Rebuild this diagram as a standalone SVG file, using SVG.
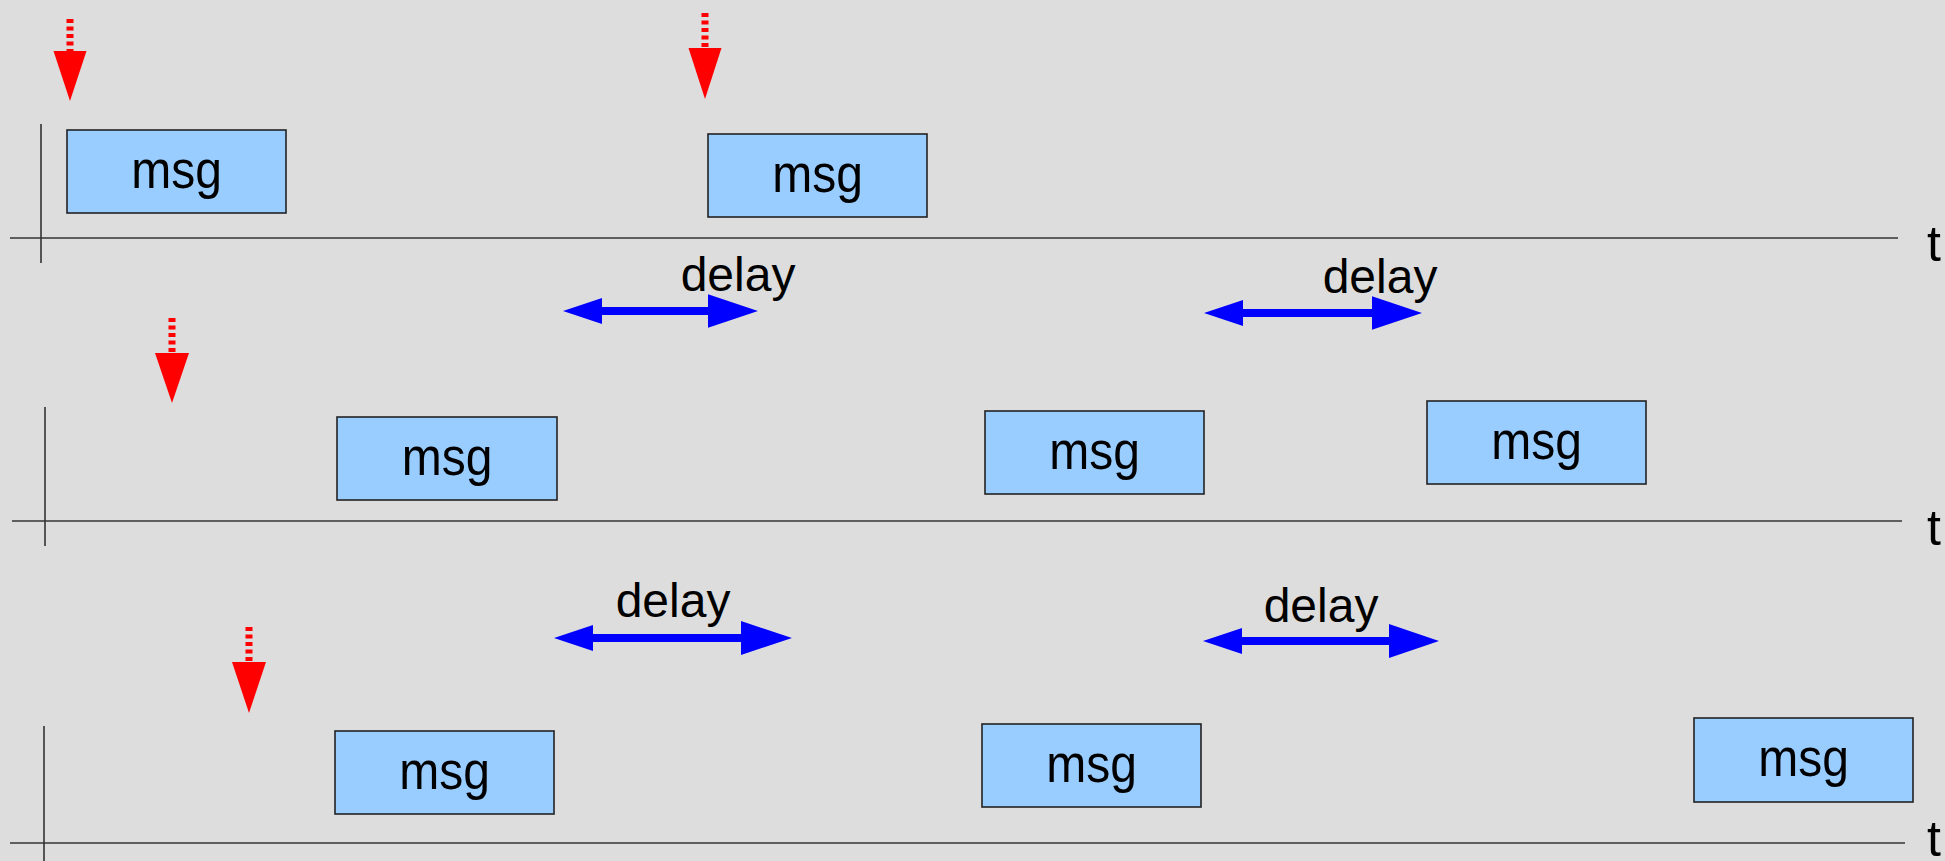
<svg xmlns="http://www.w3.org/2000/svg" width="1945" height="861" viewBox="0 0 1945 861">
<style>
.axis{stroke:#333;stroke-width:1.6;fill:none}
.box{fill:#99ccff;stroke:#222;stroke-width:1.6}
.msg{font-family:"Liberation Sans",Arial,sans-serif;font-size:48px;fill:#000;text-anchor:middle}
.lbl{font-family:"Liberation Sans",Arial,sans-serif;font-size:48px;fill:#000;text-anchor:middle}
.t{font-family:"Liberation Sans",Arial,sans-serif;font-size:50px;fill:#000}
.rshaft{stroke:#ff0000;stroke-width:7;stroke-dasharray:4 3.5;fill:none}
.rhead{fill:#ff0000}
.bshaft{stroke:#0000ff;stroke-width:8;fill:none}
.bhead{fill:#0000ff}
</style>
<rect width="1945" height="861" fill="#dddddd"/>

<g id="axes">
  <line class="axis" x1="10" y1="238" x2="1898" y2="238"/>
  <line class="axis" x1="41" y1="124" x2="41" y2="263"/>
  <text class="t" x="1927" y="261">t</text>
  <line class="axis" x1="12" y1="521" x2="1902" y2="521"/>
  <line class="axis" x1="45" y1="407" x2="45" y2="546"/>
  <text class="t" x="1927" y="545">t</text>
  <line class="axis" x1="10" y1="843" x2="1905" y2="843"/>
  <line class="axis" x1="44" y1="726" x2="44" y2="861"/>
  <text class="t" x="1927" y="856">t</text>
</g>

<g id="msg1"><rect class="box" x="67" y="130" width="219" height="83"/><text class="msg" transform="translate(176.5,188) scale(1,1.13)">msg</text></g>
<g id="msg2"><rect class="box" x="708" y="134" width="219" height="83"/><text class="msg" transform="translate(817.5,192) scale(1,1.13)">msg</text></g>
<g id="msg3"><rect class="box" x="337" y="417" width="220" height="83"/><text class="msg" transform="translate(447,475) scale(1,1.13)">msg</text></g>
<g id="msg4"><rect class="box" x="985" y="411" width="219" height="83"/><text class="msg" transform="translate(1094.5,469) scale(1,1.13)">msg</text></g>
<g id="msg5"><rect class="box" x="1427" y="401" width="219" height="83"/><text class="msg" transform="translate(1536.5,459) scale(1,1.13)">msg</text></g>
<g id="msg6"><rect class="box" x="335" y="731" width="219" height="83"/><text class="msg" transform="translate(444.5,789) scale(1,1.13)">msg</text></g>
<g id="msg7"><rect class="box" x="982" y="724" width="219" height="83"/><text class="msg" transform="translate(1091.5,782) scale(1,1.13)">msg</text></g>
<g id="msg8"><rect class="box" x="1694" y="718" width="219" height="84"/><text class="msg" transform="translate(1803.5,776) scale(1,1.13)">msg</text></g>

<g id="connectors">
  <g id="red1"><line class="rshaft" x1="70" y1="19" x2="70" y2="52"/><polygon class="rhead" points="53.5,51 86.5,51 70,101"/></g>
  <g id="red2"><line class="rshaft" x1="705" y1="13" x2="705" y2="49"/><polygon class="rhead" points="688.5,48 721.5,48 705,99"/></g>
  <g id="red3"><line class="rshaft" x1="172" y1="318" x2="172" y2="354"/><polygon class="rhead" points="155,353 189,353 172,403"/></g>
  <g id="red4"><line class="rshaft" x1="249" y1="627" x2="249" y2="663"/><polygon class="rhead" points="232,662 266,662 249,713"/></g>

  <g id="delay1">
    <line class="bshaft" x1="600" y1="311" x2="710" y2="311"/>
    <polygon class="bhead" points="563,311 602,298 602,324"/>
    <polygon class="bhead" points="758,311 708,294.3 708,327.7"/>
  </g>
  <g id="delay2">
    <line class="bshaft" x1="1241" y1="313" x2="1374" y2="313"/>
    <polygon class="bhead" points="1204,313 1243,300 1243,326"/>
    <polygon class="bhead" points="1422,313 1372,296.3 1372,329.7"/>
  </g>
  <g id="delay3">
    <line class="bshaft" x1="591" y1="638" x2="743" y2="638"/>
    <polygon class="bhead" points="554,638 593,625 593,651"/>
    <polygon class="bhead" points="792,638 741,621 741,655"/>
  </g>
  <g id="delay4">
    <line class="bshaft" x1="1240" y1="641" x2="1391" y2="641"/>
    <polygon class="bhead" points="1203,641 1242,628 1242,654"/>
    <polygon class="bhead" points="1439,641 1389,624 1389,658"/>
  </g>
</g>

<g id="labels">
  <text class="lbl" x="738" y="291">delay</text>
  <text class="lbl" x="1380" y="293">delay</text>
  <text class="lbl" x="673" y="617">delay</text>
  <text class="lbl" x="1321" y="622">delay</text>
</g>
</svg>
